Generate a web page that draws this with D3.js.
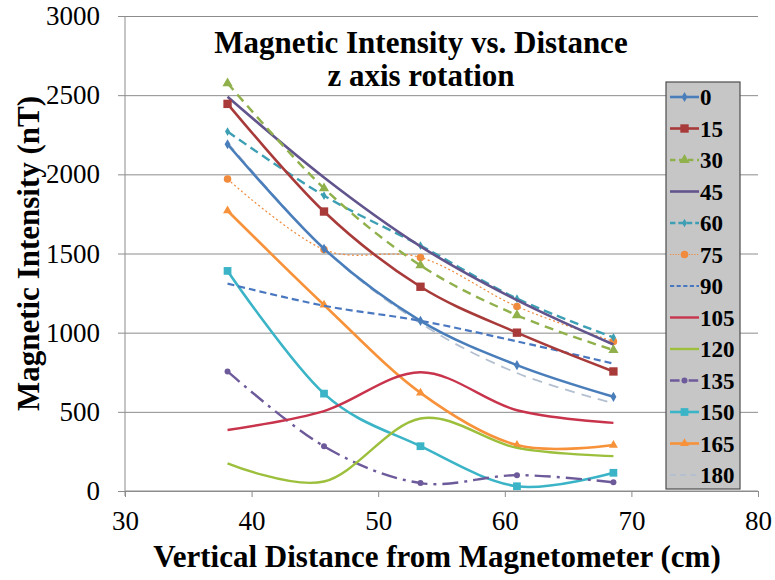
<!DOCTYPE html>
<html>
<head>
<meta charset="utf-8">
<script src="https://cdn.jsdelivr.net/npm/d3@7"></script>
<style>
  html, body { margin: 0; padding: 0; background: #ffffff; }
  svg { display: block; }
  text { font-family: "Liberation Serif", "Times New Roman", serif; fill: #000; }
</style>
</head>
<body>
<svg id="chart" width="775" height="580"></svg>
<script>
// Vertical distances (cm) at which the field was measured
const distances = [38.1, 45.72, 53.34, 60.96, 68.58];

// Rotation angles about the z axis (legend entries)
const angles = ["0", "15", "30", "45", "60", "75", "90", "105", "120", "135", "150", "165", "180"];

// Magnetic intensity (nT) for each rotation angle
const rot0   = [2190, 1530, 1075, 795, 595];
const rot15  = [2445, 1765, 1290, 1000, 755];
const rot30  = [2575, 1912, 1425, 1110, 890];
const rot45  = [2490, 1980, 1545, 1205, 925];
const rot60  = [2270, 1865, 1550, 1215, 970];
const rot75  = [1970, 1525, 1475, 1165, 945];
const rot90  = [1310, 1170, 1075, 945, 805];
const rot105 = [385, 505, 750, 510, 430];
const rot120 = [175, 60, 458, 272, 220];
const rot135 = [755, 282, 50, 100, 55];
const rot150 = [1390, 615, 283, 30, 115];
const rot165 = [1770, 1175, 620, 290, 290];
const rot180 = [2200, 1530, 1060, 745, 555];

const xTicks = [30, 40, 50, 60, 70, 80];
const yTicks = [0, 500, 1000, 1500, 2000, 2500, 3000];

const chartTitle = ["Magnetic Intensity vs. Distance", "z axis rotation"];
const xTitle = "Vertical Distance from Magnetometer (cm)";
const yTitle = "Magnetic Intensity (nT)";

const serif = "'Liberation Serif', 'Times New Roman', serif";

// Line style per series
const styles = {
  "0":   { color: "#4a7ebb", width: 2.6, dash: null,          marker: "diamond",  msize: 30 },
  "15":  { color: "#a83a3a", width: 2.6, dash: null,          marker: "square",   msize: 70 },
  "30":  { color: "#8fb04a", width: 2.4, dash: "9,6",         marker: "triangle", msize: 45 },
  "45":  { color: "#62548c", width: 2.6, dash: null,          marker: null,       msize: 0 },
  "60":  { color: "#3d9fb4", width: 2.4, dash: "9,5",         marker: "diamond",  msize: 22 },
  "75":  { color: "#f08a3c", width: 1.2, dash: "2,2.5",       marker: "circle",   msize: 45 },
  "90":  { color: "#4a78c0", width: 2.2, dash: "7,4",         marker: null,       msize: 0 },
  "105": { color: "#c8344c", width: 2.4, dash: null,          marker: null,       msize: 0 },
  "120": { color: "#9cbf3c", width: 2.4, dash: null,          marker: null,       msize: 0 },
  "135": { color: "#6d5a9a", width: 2.4, dash: "16,6,3,6",    marker: "circle",   msize: 28 },
  "150": { color: "#3ab4c6", width: 2.6, dash: null,          marker: "square",   msize: 60 },
  "165": { color: "#f7923a", width: 2.6, dash: null,          marker: "triangle", msize: 35 },
  "180": { color: "#b4c0d0", width: 1.8, dash: "10,7",        marker: null,       msize: 0 }
};

const seriesValues = [rot0, rot15, rot30, rot45, rot60, rot75, rot90, rot105, rot120, rot135, rot150, rot165, rot180];
const series = angles.map((a, i) => ({
  name: a,
  points: distances.map((d, j) => ({ x: d, y: seriesValues[i][j] })),
  style: styles[a]
}));

const svg = d3.select("#chart");

const plot = { left: 125, right: 758, top: 16, bottom: 491 };

const x = d3.scaleLinear().domain([30, 80]).range([plot.left, plot.right]);
const y = d3.scaleLinear().domain([0, 3000]).range([plot.bottom, plot.top]);

const gridColor = "#8c8c8c";

// Horizontal gridlines with short outside ticks
const yAxis = svg.append("g")
  .attr("transform", `translate(${plot.left},0)`)
  .call(d3.axisLeft(y).tickValues(yTicks).tickSize(7).tickPadding(18).tickFormat(d3.format("d")))
  .attr("font-family", serif);
yAxis.select(".domain").remove();
yAxis.selectAll(".tick line").attr("stroke", gridColor).attr("x2", plot.right - plot.left).attr("x1", -7);
yAxis.selectAll(".tick text")
  .style("font-size", "27px")
  .style("font-family", serif)
  .attr("fill", "#1a1a1a");

// Vertical axis line
svg.append("line")
  .attr("x1", plot.left).attr("x2", plot.left)
  .attr("y1", plot.top).attr("y2", plot.bottom + 5)
  .attr("stroke", gridColor);

// Horizontal axis
const xAxis = svg.append("g")
  .attr("transform", `translate(0,${plot.bottom})`)
  .call(d3.axisBottom(x).tickValues(xTicks).tickSize(6).tickPadding(14).tickFormat(d3.format("d")))
  .attr("font-family", serif);
xAxis.select(".domain").attr("stroke", gridColor).attr("d", `M${plot.left},0H${plot.right}`);
xAxis.selectAll(".tick line").attr("stroke", gridColor);
xAxis.selectAll(".tick text")
  .style("font-size", "27px")
  .style("font-family", serif)
  .attr("fill", "#1a1a1a");

// Series lines (smoothed)
const line = d3.line()
  .x(d => x(d.x))
  .y(d => y(d.y))
  .curve(d3.curveCatmullRom.alpha(0));

const symbolTypes = {
  diamond: d3.symbolDiamond,
  square: d3.symbolSquare,
  triangle: d3.symbolTriangle,
  circle: d3.symbolCircle
};

const seriesG = svg.append("g");
series.slice().reverse().forEach(s => {
  const g = seriesG.append("g");
  g.append("path")
    .datum(s.points)
    .attr("fill", "none")
    .attr("stroke", s.style.color)
    .attr("stroke-width", s.style.width)
    .attr("stroke-dasharray", s.style.dash)
    .attr("stroke-linejoin", "round")
    .attr("d", line);
  if (s.style.marker) {
    g.selectAll("path.marker")
      .data(s.points)
      .join("path")
      .attr("class", "marker")
      .attr("transform", d => `translate(${x(d.x)},${y(d.y)})`)
      .attr("d", d3.symbol().type(symbolTypes[s.style.marker]).size(s.style.msize))
      .attr("fill", s.style.color);
  }
});

// Chart title
svg.append("text")
  .attr("x", 421).attr("y", 53)
  .attr("text-anchor", "middle")
  .style("font-size", "31px").style("font-weight", "bold")
  .text(chartTitle[0]);
svg.append("text")
  .attr("x", 421).attr("y", 86)
  .attr("text-anchor", "middle")
  .style("font-size", "31px").style("font-weight", "bold")
  .text(chartTitle[1]);

// Axis titles
svg.append("text")
  .attr("x", 437).attr("y", 567)
  .attr("text-anchor", "middle")
  .style("font-size", "31px").style("font-weight", "bold")
  .text(xTitle);
svg.append("text")
  .attr("transform", `translate(39,${(plot.top + plot.bottom) / 2}) rotate(-90)`)
  .attr("text-anchor", "middle")
  .style("font-size", "31px").style("font-weight", "bold")
  .text(yTitle);

// Legend
const legend = { x: 666, y: 82, w: 74, h: 407 };
const lg = svg.append("g");
lg.append("rect")
  .attr("x", legend.x).attr("y", legend.y)
  .attr("width", legend.w).attr("height", legend.h)
  .attr("fill", "#c6c6c6")
  .attr("stroke", "#4d4d4d").attr("stroke-width", 1.2);

const ly = d3.scalePoint().domain(angles).range([97, 475]);
const items = lg.selectAll("g.item").data(series).join("g")
  .attr("class", "item")
  .attr("transform", d => `translate(0,${ly(d.name)})`);
items.append("line")
  .attr("x1", 670).attr("x2", 699)
  .attr("stroke", d => d.style.color)
  .attr("stroke-width", d => d.style.width)
  .attr("stroke-dasharray", d => d.style.dash ? d.style.dash.split(",").map(v => +v * 0.6).join(",") : null);
items.filter(d => d.style.marker).append("path")
  .attr("transform", "translate(684.5,0)")
  .attr("d", d => d3.symbol().type(symbolTypes[d.style.marker]).size(d.style.msize)())
  .attr("fill", d => d.style.color);
items.append("text")
  .attr("x", 700).attr("y", 0)
  .attr("dy", "0.35em")
  .style("font-size", "23px")
  .style("font-weight", "bold")
  .text(d => d.name);
</script>
</body>
</html>
